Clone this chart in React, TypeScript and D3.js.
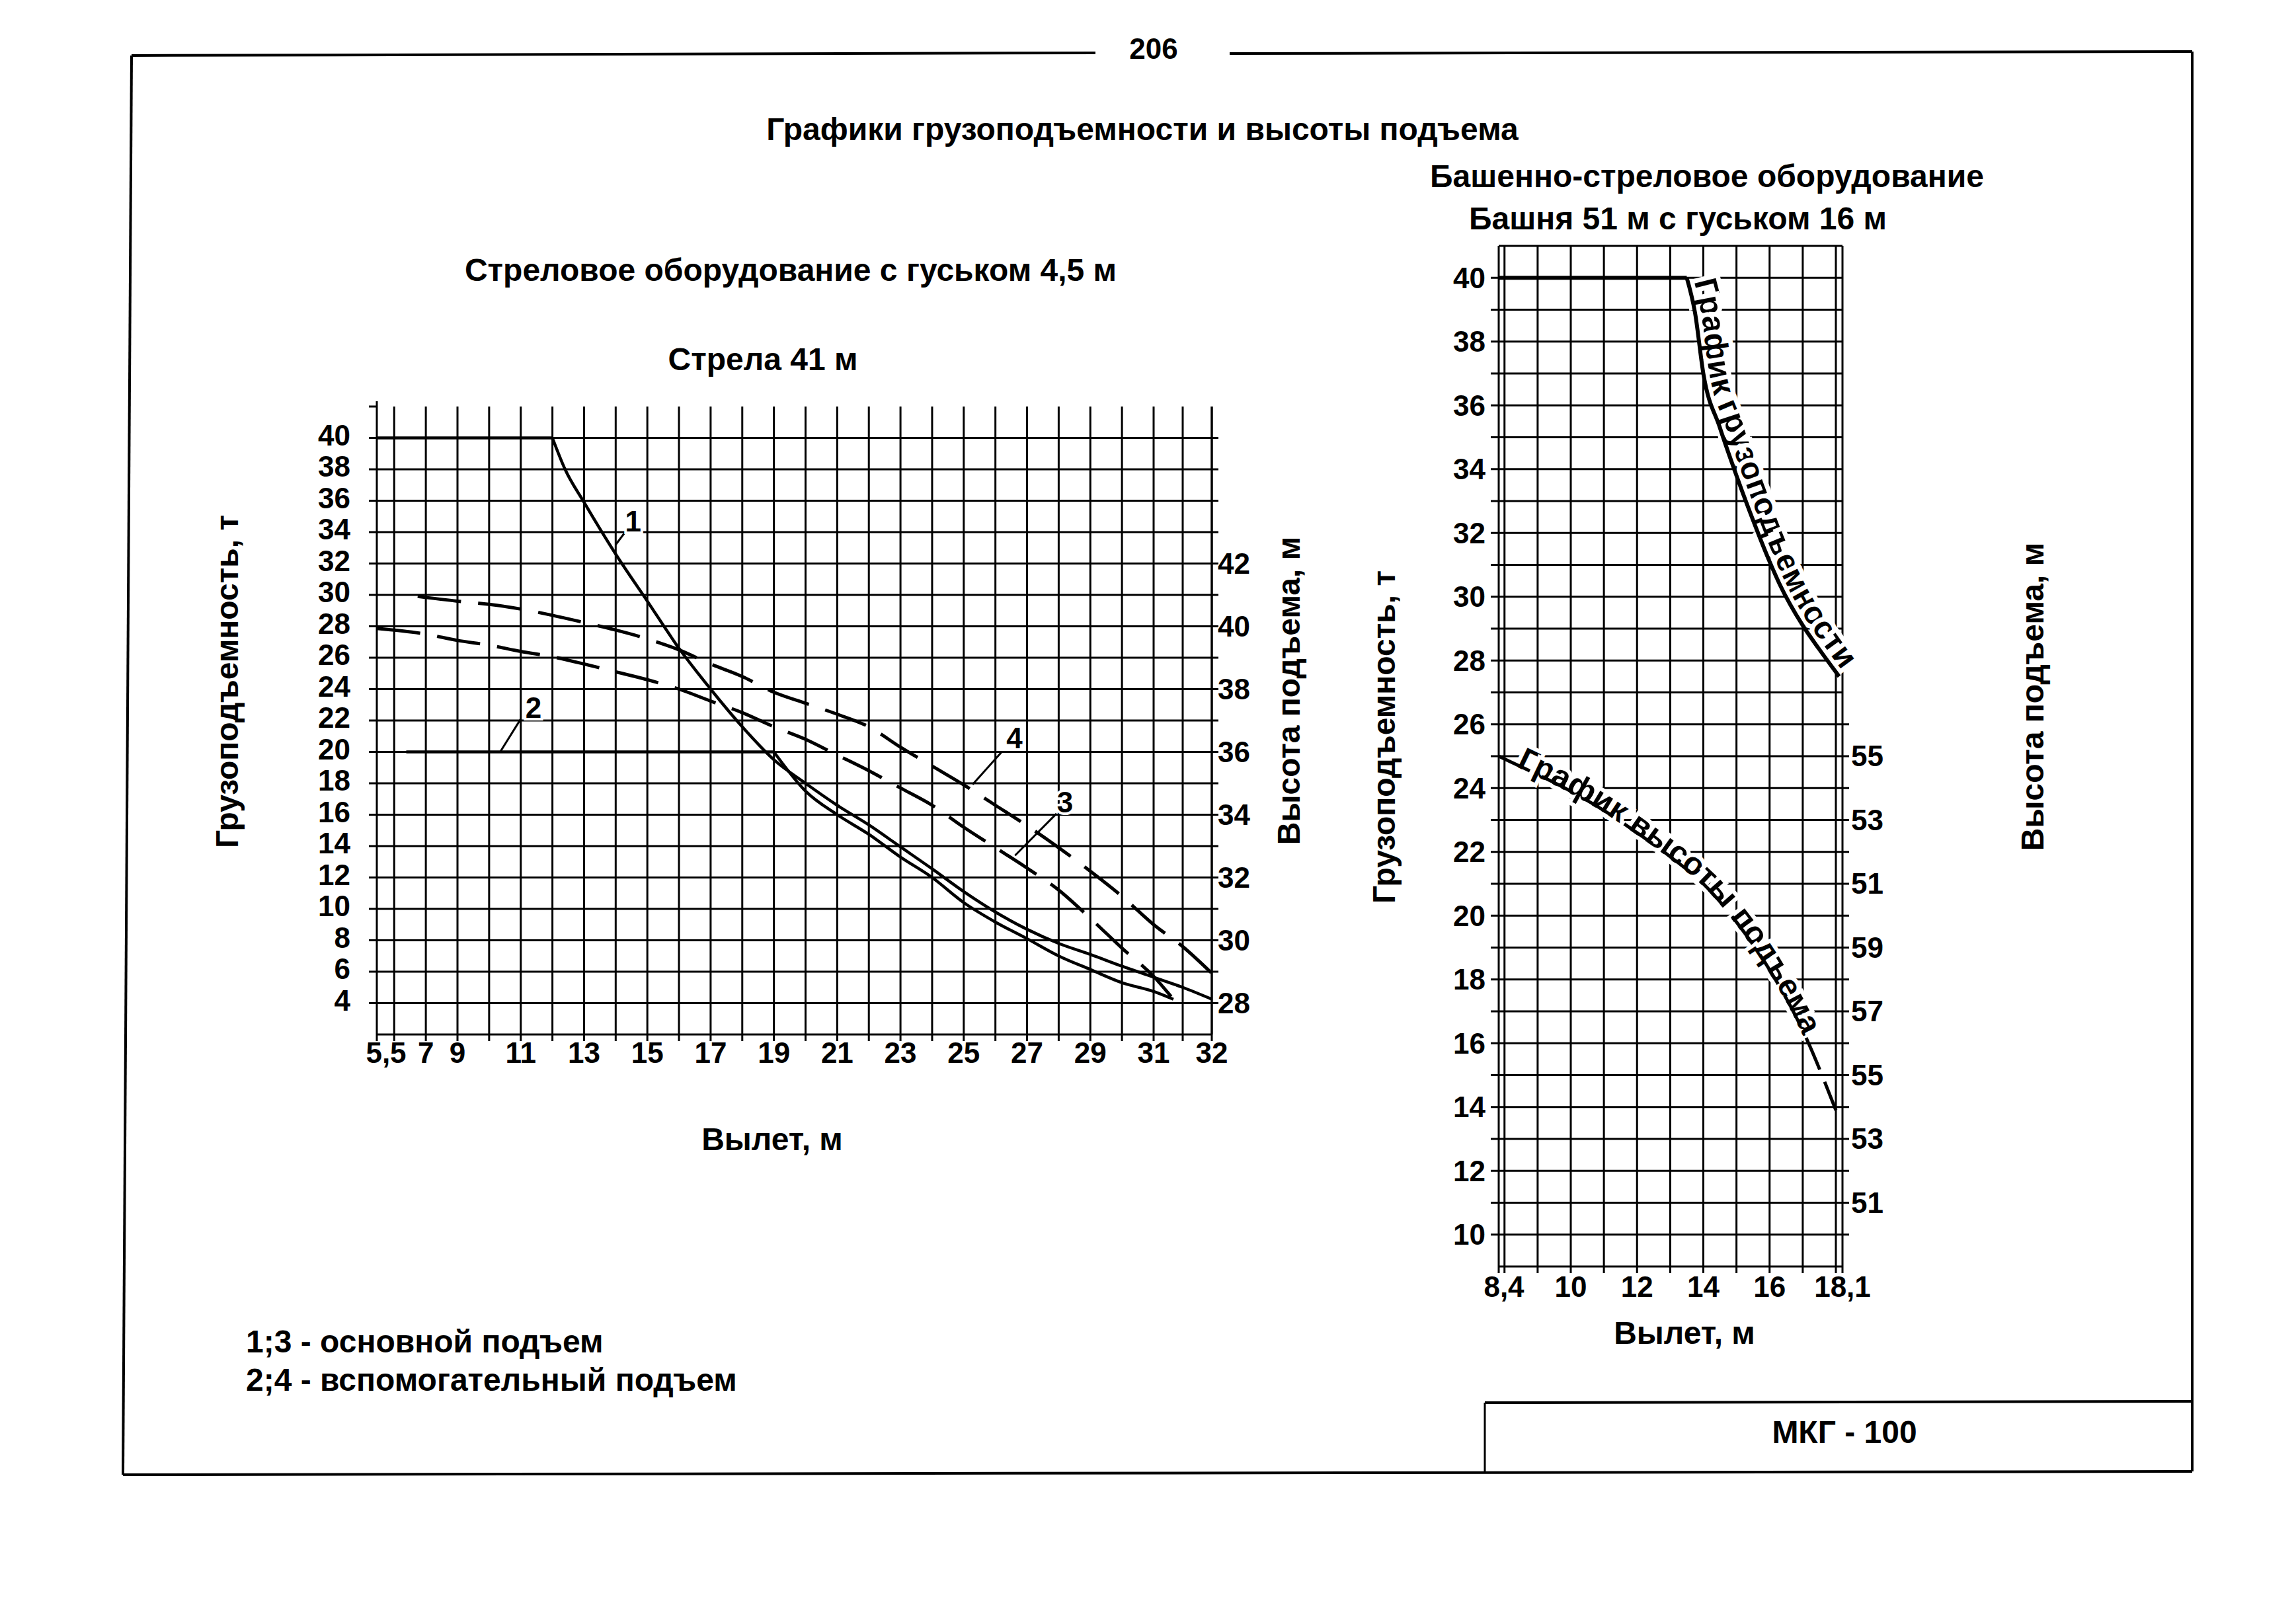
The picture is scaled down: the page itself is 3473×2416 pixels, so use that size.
import React from 'react';
import * as d3 from 'd3';

const FONT = '"Liberation Sans", Arial, Helvetica, sans-serif';

// ================= Left chart: Стрела 41 м =================
const boomReachTicks = [5.5, 7, 9, 11, 13, 15, 17, 19, 21, 23, 25, 27, 29, 31, 32];
const boomReachLabels = ['5,5', '7', '9', '11', '13', '15', '17', '19', '21', '23', '25', '27', '29', '31', '32'];
const boomLoadTicks = [40, 38, 36, 34, 32, 30, 28, 26, 24, 22, 20, 18, 16, 14, 12, 10, 8, 6, 4];
const boomHeightTicks = [42, 40, 38, 36, 34, 32, 30, 28];

// 1 - main hoist capacity, t
const mainLoadReach = [5.5, 12.0, 12.4, 13, 14, 15, 16, 17, 18, 19, 20, 21, 22, 23, 24, 25, 26, 27, 28, 29, 30, 31, 31.5, 32];
const mainLoadValue = [40, 40, 38.0, 35.9, 32.6, 29.6, 26.6, 24.0, 21.6, 19.5, 18.0, 16.6, 15.35, 13.95, 12.55, 11.1, 9.8, 8.7, 7.8, 7.1, 6.35, 5.65, 5.0, 4.25];
// 2 - auxiliary hoist capacity, t
const auxLoadReach = [6.4, 19.0, 20, 21, 22, 23, 24, 25, 26, 27, 28, 29, 30, 31, 31.34];
const auxLoadValue = [20, 20, 17.5, 16.0, 14.75, 13.3, 12.0, 10.4, 9.16, 8.1, 7.0, 6.14, 5.3, 4.74, 4.24];
// 3 - main hoist lifting height, m
const mainHeightReach = [5.5, 7, 9, 10, 11, 12, 13, 14, 15, 16, 17, 18, 19, 20, 21, 22, 23, 24, 25, 26, 27, 28, 29, 30, 31, 31.34];
const mainHeightValue = [39.93, 39.75, 39.55, 39.4, 39.2, 39.03, 38.8, 38.55, 38.3, 38.0, 37.62, 37.25, 36.8, 36.4, 35.9, 35.4, 34.85, 34.3, 33.6, 32.95, 32.3, 31.6, 30.7, 29.75, 28.85, 28.12];
// 4 - auxiliary hoist lifting height, m
const auxHeightReach = [6.75, 9, 10, 11, 12, 13, 14, 15, 16, 17, 18, 19, 20, 21, 22, 23, 24, 25, 26, 27, 28, 29, 30, 31, 31.5, 32];
const auxHeightValue = [40.95, 40.8, 40.7, 40.55, 40.35, 40.12, 39.88, 39.6, 39.25, 38.8, 38.4, 37.9, 37.55, 37.2, 36.8, 36.15, 35.55, 34.95, 34.3, 33.65, 32.95, 32.2, 31.4, 30.5, 29.8, 28.95];

// curve number tags with leader lines (reach, load)
const curveTags = ['1', '2', '3', '4'];
const tagReach = [14.55, 11.4, 28.2, 26.6];
const tagLoad = [34.7, 22.8, 16.8, 20.9];
const leaderFromReach = [14.0, 10.35, 26.62, 25.28];
const leaderFromLoad = [33.2, 20.0, 13.4, 17.93];
const leaderToReach = [14.3, 11.0, 27.93, 26.2];
const leaderToLoad = [34.0, 22.1, 16.07, 20.0];

// ================= Right chart: Башня 51 м с гуськом 16 м =================
const towerReachTicks = [8.4, 10, 12, 14, 16, 18.1];
const towerReachLabels = ['8,4', '10', '12', '14', '16', '18,1'];
const towerLoadTicks = [40, 38, 36, 34, 32, 30, 28, 26, 24, 22, 20, 18, 16, 14, 12, 10];
const towerHeightTicks = [65, 63, 61, 59, 57, 55, 53, 51];
const towerHeightLabels = ['55', '53', '51', '59', '57', '55', '53', '51'];
const towerLoadReach = [8.4, 13.5, 13.75, 14, 14.5, 15, 15.5, 16, 16.3, 17, 17.5, 18.05];
const towerLoadValue = [40, 40, 38.9, 37.0, 35.3, 33.8, 32.4, 31.1, 30.4, 29.1, 28.35, 27.5];
const towerHeightReach = [8.4, 9, 10, 11, 12, 13, 14, 15, 16, 17, 18];
const towerHeightValue = [65.0, 64.6, 63.9, 63.3, 62.6, 61.85, 61.0, 59.8, 58.3, 56.4, 53.9];

const smooth = d3.line().curve(d3.curveMonotoneX);
const straight = d3.line();

function toPts(xs: number[], ys: number[], sx: any, sy: any): [number, number][] {
  return xs.map((x, i) => [sx(x), sy(ys[i])] as [number, number]);
}
function splitFlat(p: [number, number][]) {
  let k = 0;
  while (k + 1 < p.length && p[k + 1][1] === p[0][1]) k++;
  return { flat: k > 0 ? straight(p.slice(0, k + 1)) : null, bend: smooth(p.slice(k)) as string, rest: p.slice(k) };
}
function polyLen(p: [number, number][]) {
  let L = 0;
  for (let i = 1; i < p.length; i++) L += Math.hypot(p[i][0] - p[i - 1][0], p[i][1] - p[i - 1][1]);
  return L;
}
// shift a polyline sideways (towards the text's "up" direction) by d pixels
function offsetPts(p: [number, number][], d: number): [number, number][] {
  return p.map((pt, i) => {
    const a = p[Math.max(0, i - 1)], b = p[Math.min(p.length - 1, i + 1)];
    const dx = b[0] - a[0], dy = b[1] - a[1];
    const n = Math.hypot(dx, dy) || 1;
    return [pt[0] + (d * dy) / n, pt[1] - (d * dx) / n] as [number, number];
  });
}

export default function App() {
  // ---- left scales ----
  const gridXL = d3.scaleLinear().domain([9, 31, 33]).range([692, 1745, 1833]);
  const xL = d3.scaleLinear().domain([5.5, 7, 9, 31, 32]).range([570, gridXL(8), gridXL(9), gridXL(31), gridXL(33)]);
  const yL = d3.scaleLinear().domain([2, 42]).range([1565, 615]);
  const hL = d3.scaleLinear().domain([27, 47]).range([1565, 615]);
  const L0 = xL(5.5), L1 = xL(32), T0 = yL(42), B0 = yL(2);

  // ---- right scales ----
  const gridXR = d3.scaleLinear().domain([10, 18]).range([2376, 2777]);
  const xR = d3.scaleLinear().domain([8.4, 10, 18, 18.1]).range([2267, gridXR(10), gridXR(18), 2787]);
  const yR = d3.scaleLinear().domain([9, 41]).range([1916, 372]);
  const hR = d3.scaleLinear().domain([49, 81]).range([1916, 372]);
  const R0 = xR(8.4), R1 = xR(18.1), T1 = yR(41), B1 = yR(9);

  const c1 = splitFlat(toPts(mainLoadReach, mainLoadValue, xL, yL));
  const c2 = splitFlat(toPts(auxLoadReach, auxLoadValue, xL, yL));
  const c3 = smooth(toPts(mainHeightReach, mainHeightValue, xL, hL)) as string;
  const c4 = smooth(toPts(auxHeightReach, auxHeightValue, xL, hL)) as string;

  const tl = splitFlat(toPts(towerLoadReach, towerLoadValue, xR, yR));
  const thPts = toPts(towerHeightReach, towerHeightValue, xR, hR);
  const th = smooth(thPts) as string;
  const tlTextPts = offsetPts(tl.rest, 9);
  const thTextPts = offsetPts(thPts, -3);
  const tlLen = polyLen(tlTextPts);
  const thLen = polyLen(thTextPts);

  const grid = { stroke: '#000', strokeWidth: 3, fill: 'none' } as const;
  const txt = { fontFamily: FONT, fontWeight: 700, fill: '#000' } as const;
  const TF = 48; // text font size
  const KF = 44; // tick font size

  return (
    <svg width={3473} height={2416} style={{ position: 'absolute', left: 0, top: 0, background: '#fff' }}>
      <rect x={0} y={0} width={3473} height={2416} fill="#fff" />

      {/* page frame */}
      <g stroke="#000" strokeWidth={4} fill="none">
        <line x1={199} y1={84} x2={1657} y2={80} />
        <line x1={1860} y1={81} x2={3316} y2={78} />
        <line x1={3316} y1={78} x2={3316} y2={2226} />
        <line x1={199} y1={84} x2={186} y2={2231} />
        <line x1={186} y1={2231} x2={3316} y2={2226} />
        <line x1={2246} y1={2122} x2={3316} y2={2120} />
        <line x1={2246} y1={2122} x2={2246} y2={2228} strokeWidth={3} />
      </g>
      <text x={1745} y={89} textAnchor="middle" fontSize={KF} {...txt}>206</text>

      {/* titles */}
      <text x={1728} y={212} textAnchor="middle" fontSize={TF} {...txt}>Графики грузоподъемности и высоты подъема</text>
      <text x={2582} y={283} textAnchor="middle" fontSize={TF} {...txt}>Башенно-стреловое оборудование</text>
      <text x={2538} y={347} textAnchor="middle" fontSize={TF} {...txt}>Башня 51 м с гуськом 16 м</text>
      <text x={1196} y={425} textAnchor="middle" fontSize={TF} {...txt}>Стреловое оборудование с гуськом 4,5 м</text>
      <text x={1154} y={560} textAnchor="middle" fontSize={TF} {...txt}>Стрела 41 м</text>

      {/* ================= LEFT CHART ================= */}
      <g {...grid}>
        {d3.range(7, 34).map(g => (
          <line key={'lv' + g} x1={gridXL(g)} x2={gridXL(g)} y1={T0} y2={B0} />
        ))}
        {d3.range(4, 42, 2).map(v => (
          <line key={'lh' + v} x1={L0} x2={L1} y1={yL(v)} y2={yL(v)} />
        ))}
        <line x1={L0} x2={L0} y1={T0 - 8} y2={B0} />
        <line x1={L1} x2={L1} y1={T0} y2={B0} />
        <line x1={L0} x2={L1} y1={B0} y2={B0} />
        {d3.range(4, 44, 2).map(v => (
          <line key={'ltl' + v} x1={L0 - 12} x2={L0} y1={yL(v)} y2={yL(v)} />
        ))}
        {d3.range(4, 42, 2).map(v => (
          <line key={'ltr' + v} x1={L1} x2={L1 + 10} y1={yL(v)} y2={yL(v)} />
        ))}
        {[L0, ...d3.range(7, 34).map(g => gridXL(g))].map((x, i) => (
          <line key={'ltb' + i} x1={x} x2={x} y1={B0} y2={B0 + 10} />
        ))}
      </g>

      {/* load curves */}
      <g fill="none" stroke="#000" strokeWidth={4.5} strokeLinejoin="round">
        {c1.flat && <path d={c1.flat} />}
        <path d={c1.bend} />
        {c2.flat && <path d={c2.flat} />}
        <path d={c2.bend} />
      </g>
      {/* height curves */}
      <g fill="none" stroke="#000" strokeWidth={5} strokeDasharray="66 26">
        <path d={c3} />
        <path d={c4} />
      </g>

      {/* tags */}
      <g stroke="#000" strokeWidth={3}>
        {curveTags.map((t, i) => (
          <line key={'ld' + t} x1={xL(leaderFromReach[i])} y1={yL(leaderFromLoad[i])} x2={xL(leaderToReach[i])} y2={yL(leaderToLoad[i])} />
        ))}
      </g>
      {curveTags.map((t, i) => (
        <text key={'tg' + t} x={xL(tagReach[i])} y={yL(tagLoad[i])} dy="0.35em" textAnchor="middle" fontSize={KF}
          {...txt} stroke="#fff" strokeWidth={8} paintOrder="stroke">{t}</text>
      ))}

      {/* left tick labels */}
      {boomLoadTicks.map(v => (
        <text key={'llb' + v} x={530} y={yL(v) - 4} dy="0.35em" textAnchor="end" fontSize={KF} {...txt}>{v}</text>
      ))}
      {boomHeightTicks.map(h => (
        <text key={'lhb' + h} x={1842} y={hL(h)} dy="0.35em" textAnchor="start" fontSize={KF} {...txt}>{h}</text>
      ))}
      {boomReachTicks.map((r, i) => (
        <text key={'lxb' + i} x={xL(r) + (i === 0 ? 14 : 0)} y={1593} dy="0.35em" textAnchor="middle" fontSize={KF} {...txt}>{boomReachLabels[i]}</text>
      ))}
      <text transform="translate(360,1031) rotate(-90)" textAnchor="middle" fontSize={TF} {...txt}>Грузоподъемность, т</text>
      <text transform="translate(1966,1045) rotate(-90)" textAnchor="middle" fontSize={TF} {...txt}>Высота подъема, м</text>
      <text x={1168} y={1740} textAnchor="middle" fontSize={TF} {...txt}>Вылет, м</text>

      {/* legend */}
      <text x={372} y={2046} fontSize={TF} {...txt}>1;3 - основной подъем</text>
      <text x={372} y={2104} fontSize={TF} {...txt}>2;4 - вспомогательный подъем</text>

      {/* ================= RIGHT CHART ================= */}
      <g {...grid}>
        {d3.range(8, 19).map(g => (
          <line key={'rv' + g} x1={gridXR(g)} x2={gridXR(g)} y1={T1} y2={B1} />
        ))}
        {d3.range(9, 42).map(v => (
          <line key={'rh' + v} x1={R0} x2={R1} y1={yR(v)} y2={yR(v)} />
        ))}
        <line x1={R0} x2={R0} y1={T1} y2={B1} />
        <line x1={R1} x2={R1} y1={T1} y2={B1} />
        {d3.range(10, 41).map(v => (
          <line key={'rtl' + v} x1={R0 - 12} x2={R0} y1={yR(v)} y2={yR(v)} />
        ))}
        {d3.range(10, 27).map(v => (
          <line key={'rtr' + v} x1={R1} x2={R1 + 10} y1={yR(v)} y2={yR(v)} />
        ))}
        {[R0, ...d3.range(8, 19).map(g => gridXR(g)), R1].map((x, i) => (
          <line key={'rtb' + i} x1={x} x2={x} y1={B1} y2={B1 + 10} />
        ))}
      </g>

      <defs>
        <path id="towerLoadText" d={smooth(tlTextPts) as string} />
        <path id="towerHeightText" d={smooth(thTextPts) as string} />
      </defs>

      {/* capacity curve */}
      <text fontSize={TF} {...txt} stroke="#fff" strokeWidth={14} paintOrder="stroke">
        <textPath href="#towerLoadText" startOffset={8} textLength={tlLen * 0.98} lengthAdjust="spacing">График грузоподъемности</textPath>
      </text>
      <g fill="none" stroke="#000" strokeWidth={6} strokeLinejoin="round">
        {tl.flat && <path d={tl.flat} />}
        <path d={tl.bend} />
      </g>

      {/* height curve */}
      <text fontSize={TF} {...txt} stroke="#fff" strokeWidth={12} paintOrder="stroke">
        <textPath href="#towerHeightText" startOffset={thLen * 0.04} textLength={thLen * 0.8} lengthAdjust="spacing">График высоты подъема</textPath>
      </text>
      <path d={th} fill="none" stroke="#000" strokeWidth={5} strokeDasharray="52 20" />

      {/* right tick labels */}
      {towerLoadTicks.map(v => (
        <text key={'rlb' + v} x={2247} y={yR(v)} dy="0.35em" textAnchor="end" fontSize={KF} {...txt}>{v}</text>
      ))}
      {towerHeightTicks.map((h, i) => (
        <text key={'rhb' + i} x={2800} y={hR(h)} dy="0.35em" textAnchor="start" fontSize={KF} {...txt}>{towerHeightLabels[i]}</text>
      ))}
      {towerReachTicks.map((r, i) => (
        <text key={'rxb' + i} x={xR(r) + (i === 0 ? 8 : 0)} y={1947} dy="0.35em" textAnchor="middle" fontSize={KF} {...txt}>{towerReachLabels[i]}</text>
      ))}
      <text transform="translate(2110,1115) rotate(-90)" textAnchor="middle" fontSize={TF} {...txt}>Грузоподъемность, т</text>
      <text transform="translate(3091,1054) rotate(-90)" textAnchor="middle" fontSize={TF} {...txt}>Высота подъема, м</text>
      <text x={2548} y={2033} textAnchor="middle" fontSize={TF} {...txt}>Вылет, м</text>

      <text x={2790} y={2183} textAnchor="middle" fontSize={TF} {...txt}>МКГ - 100</text>
    </svg>
  );
}
